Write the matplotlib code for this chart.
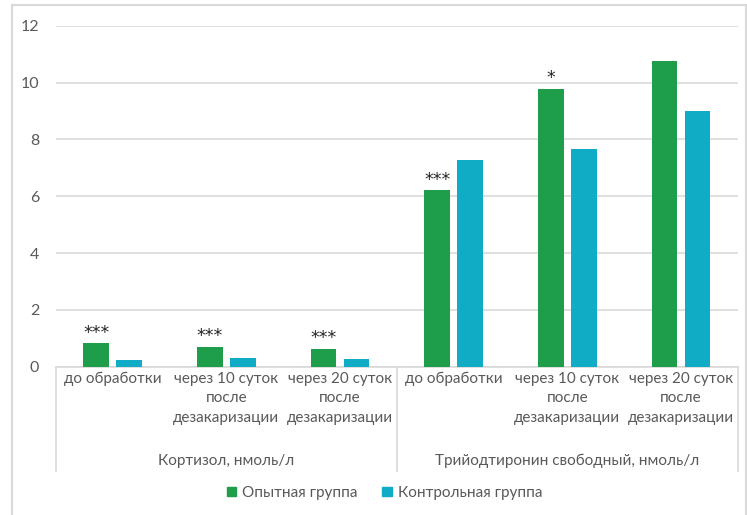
import matplotlib
matplotlib.use("Agg")
import matplotlib.pyplot as plt
from matplotlib.patches import Patch, Rectangle

plt.rcParams['font.family'] = ['Lato', 'DejaVu Sans']

# данные: гормоны в сыворотке крови
categories = ['до обработки',
              'через 10 суток\nпосле\nдезакаризации',
              'через 20 суток\nпосле\nдезакаризации',
              'до обработки',
              'через 10 суток\nпосле\nдезакаризации',
              'через 20 суток\nпосле\nдезакаризации']
groups = ['Кортизол, нмоль/л', 'Трийодтиронин свободный, нмоль/л']
opytnaya = [0.82, 0.70, 0.63, 6.21, 9.79, 10.77]
kontrol = [0.25, 0.29, 0.27, 7.29, 7.67, 8.99]
stars = ['***', '***', '***', '***', '*', '']
series_names = ['Опытная группа', 'Контрольная группа']

green = '#1E9E4A'
cyan = '#10ABC5'
grey_txt = '#595959'
grid_c = '#D9D9D9'

fig = plt.figure(figsize=(7.47, 5.15), dpi=100)
ax = fig.add_axes([56 / 747, 1 - 366.7 / 515, (737.7 - 56) / 747, 341 / 515])

x = list(range(len(categories)))
w = 0.226
off = 0.145
ax.bar([i - off for i in x], opytnaya, width=w, color=green, zorder=3)
ax.bar([i + off for i in x], kontrol, width=w, color=cyan, zorder=3)

# звёздочки достоверности над опытной группой
for i, s in enumerate(stars):
    if s:
        ax.text(i - off, opytnaya[i] + 0.05, s, ha='center', va='bottom',
                fontsize=12.5, color='#262626', family='DejaVu Sans')

ax.set_xlim(-0.5, 5.5)
ax.set_ylim(0, 12)
ax.set_yticks(range(0, 13, 2))
ax.yaxis.grid(True, color=grid_c, linewidth=1.2, zorder=0)
ax.tick_params(axis='y', length=0, labelsize=11.5, labelcolor=grey_txt, pad=12)
ax.set_xticks([])
for sp in ax.spines.values():
    sp.set_visible(False)

# многоуровневая ось категорий
trans = ax.get_xaxis_transform()
ax.plot([-0.5, 5.5], [0, 0], color=grid_c, lw=1.2, transform=trans, clip_on=False)
for xv in [-0.5, 2.5, 5.5]:
    ax.plot([xv, xv], [0, -0.305], color=grid_c, lw=1.2, transform=trans, clip_on=False)

for i, lab in enumerate(categories):
    ax.text(i, -0.015, lab, transform=trans, ha='center', va='top',
            fontsize=11, color=grey_txt, linespacing=1.5)
for g, lab in enumerate(groups):
    ax.text(1 + 3 * g, -0.277, lab, transform=trans, ha='center', va='center',
            fontsize=11, color=grey_txt)

handles = [Patch(color=green), Patch(color=cyan)]
fig.legend(handles, series_names, loc='center', bbox_to_anchor=(0.515, 1 - 493 / 515),
           ncol=2, frameon=False, fontsize=11, labelcolor=grey_txt,
           handlelength=0.6, handleheight=0.6, handletextpad=0.4, columnspacing=1.6)

# рамка области диаграммы
fig.patches.append(Rectangle((12 / 747, -0.05), 734 / 747, 1.05 - 5 / 515,
                             transform=fig.transFigure, fill=False,
                             edgecolor=grid_c, linewidth=1.5))

fig.savefig('out.png', dpi=100)
